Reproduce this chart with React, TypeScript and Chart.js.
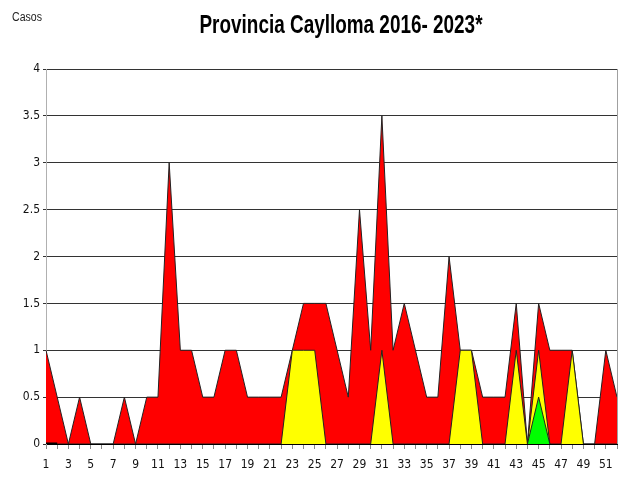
import React, { useEffect, useRef } from 'react';
import { Chart, registerables } from 'chart.js';

Chart.register(...registerables);

const weeks = ['1','2','3','4','5','6','7','8','9','10','11','12','13','14','15','16','17','18','19','20','21','22','23','24','25','26','27','28','29','30','31','32','33','34','35','36','37','38','39','40','41','42','43','44','45','46','47','48','49','50','51','52'];

const redValues = [1,0.5,0,0.5,0,0,0,0.5,0,0.5,0.5,3,1,1,0.5,0.5,1,1,0.5,0.5,0.5,0.5,1,1.5,1.5,1.5,1,0.5,2.5,1,3.5,1,1.5,1,0.5,0.5,2,1,1,0.5,0.5,0.5,1.5,0,1.5,1,1,1,0,0,1,0.5];

const yellowValues = [0,0,0,0,0,0,0,0,0,0,0,0,0,0,0,0,0,0,0,0,0,0,1,1,1,0,0,0,0,0,1,0,0,0,0,0,0,1,1,0,0,0,1,0,1,0,0,1,0,0,0,0];

const greenValues: (number | null)[] = [null,null,null,null,null,null,null,null,null,null,null,null,null,null,null,null,null,null,null,null,null,null,null,null,null,null,null,null,null,null,null,null,null,null,null,null,null,null,null,null,null,null,null,0,0.5,0,null,null,null,null,null,null];

const blackValues: (number | null)[] = [0,0,null,null,null,null,null,null,null,null,null,null,null,null,null,null,null,null,null,null,null,null,null,null,null,null,null,null,null,null,null,null,null,null,null,null,null,null,null,null,null,null,null,null,null,null,null,null,null,null,null,null];

const yTicks = [0, 0.5, 1, 1.5, 2, 2.5, 3, 3.5, 4];

const titleText = 'Provincia Caylloma 2016- 2023*';
const yLabel = 'Casos';

const FONT = "'Liberation Sans Narrow', 'Arial Narrow', 'DejaVu Sans Condensed', sans-serif";

function drawNarrow(ctx: any, text: string, font: string, cx: number, cy: number, width: number, align: 'center' | 'left') {
  ctx.save();
  ctx.font = font;
  const w = ctx.measureText(text).width;
  const sx = width / w;
  ctx.translate(cx, cy);
  ctx.scale(sx, 1);
  ctx.textAlign = align;
  ctx.textBaseline = 'alphabetic';
  ctx.fillText(text, 0, 0);
  ctx.restore();
}

const textPlugin = {
  id: 'texts',
  afterDraw(chart: any) {
    const ctx = chart.ctx;
    const ca = chart.chartArea;
    ctx.save();
    ctx.strokeStyle = '#a0a0a0';
    ctx.lineWidth = 1;
    ctx.beginPath();
    ctx.moveTo(Math.round(ca.right) + 0.5, ca.top);
    ctx.lineTo(Math.round(ca.right) + 0.5, ca.bottom);
    ctx.stroke();
    ctx.fillStyle = '#000';
    drawNarrow(ctx, titleText, "bold 26px 'Liberation Sans', Arial, sans-serif", 341, 33, 283, 'center');
    ctx.fillStyle = '#222';
    drawNarrow(ctx, yLabel, "12px 'Liberation Sans', Arial, sans-serif", 12, 21, 30, 'left');
    ctx.restore();
  },
};

export default function App() {
  const ref = useRef<HTMLCanvasElement>(null);
  useEffect(() => {
    if (!ref.current) return;
    const chart = new Chart(ref.current, {
      type: 'line',
      data: {
        labels: weeks,
        datasets: [
          { label: 'black', data: blackValues, borderColor: '#000', borderWidth: 3, fill: false, pointRadius: 0, order: 0 },
          { label: 'green', data: greenValues, backgroundColor: '#00ff00', borderColor: '#222', borderWidth: 1, fill: 'origin', pointRadius: 0, tension: 0, order: 1 },
          { label: 'yellow', data: yellowValues, backgroundColor: '#ffff00', borderColor: '#222', borderWidth: 1, fill: 'origin', pointRadius: 0, tension: 0, order: 2 },
          { label: 'red', data: redValues, backgroundColor: '#ff0000', borderColor: '#222', borderWidth: 1, fill: 'origin', pointRadius: 0, tension: 0, order: 3 },
        ],
      },
      options: {
        animation: false,
        responsive: true,
        maintainAspectRatio: false,
        layout: { padding: { top: 69, right: 6, left: 0, bottom: 0 } },
        plugins: {
          legend: { display: false },
          tooltip: { enabled: false },
          title: { display: false },
        },
        scales: {
          x: {
            type: 'category',
            offset: false,
            grid: { drawOnChartArea: false, drawTicks: true, tickLength: 5, color: '#888' },
            border: { color: '#000', width: 1 },
            ticks: {
              autoSkip: false,
              maxRotation: 0,
              minRotation: 0,
              padding: 9,
              color: '#111',
              font: { family: FONT, size: 12 },
              callback: (_v: any, i: number) => (i % 2 === 0 ? weeks[i] : ''),
            },
            afterFit: (s: any) => { s.height = 33; s.paddingRight = 0; s.paddingLeft = 0; },
          },
          y: {
            min: 0,
            max: 4,
            afterBuildTicks: (s: any) => { s.ticks = yTicks.map((v) => ({ value: v })); },
            grid: { color: '#333', lineWidth: 1, tickLength: 3, drawTicks: true },
            border: { color: '#b0b0b0', width: 1 },
            ticks: {
              padding: 3,
              color: '#111',
              font: { family: FONT, size: 12 },
              callback: (v: any) => String(v),
            },
            afterFit: (s: any) => { s.width = 46; },
          },
        },
      },
      plugins: [textPlugin],
    });
    return () => chart.destroy();
  }, []);
  return (
    <div style={{ position: 'fixed', left: 0, top: 0, width: 623, height: 477, background: '#fff' }}>
      <canvas ref={ref} />
    </div>
  );
}
